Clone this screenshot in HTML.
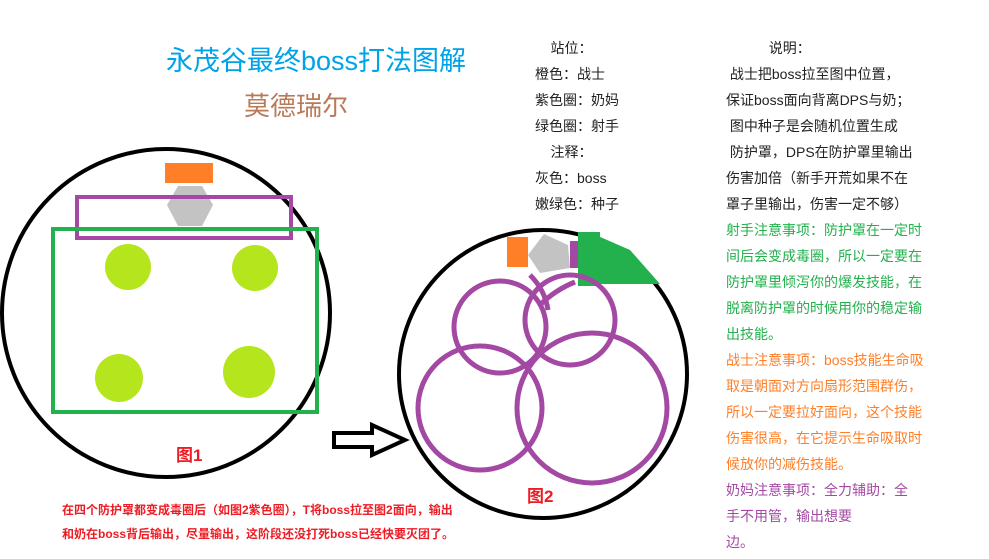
<!DOCTYPE html><html><head><meta charset="utf-8"><style>
body{margin:0;width:989px;height:559px;background:#fff;position:relative;overflow:hidden;font-family:"Liberation Sans","Noto Sans CJK SC",sans-serif}
.t{position:absolute;white-space:nowrap;font-size:14px;color:#222}
</style></head><body>
<svg width="989" height="559" style="position:absolute;left:0;top:0">
<circle cx="166" cy="313" r="164" fill="none" stroke="#000" stroke-width="4"/>
<rect x="165" y="163" width="48" height="20" fill="#fe7f27"/>
<polygon points="178,186 202,186 213,205 202,226 178,226 167,205" fill="#c3c3c3"/>
<rect x="77" y="197" width="214" height="41" fill="none" stroke="#a349a4" stroke-width="4"/>
<rect x="53" y="229" width="264" height="183" fill="none" stroke="#22b14c" stroke-width="4"/>
<circle cx="128" cy="267" r="23" fill="#b5e61d"/>
<circle cx="255" cy="268" r="23" fill="#b5e61d"/>
<circle cx="119" cy="378" r="24" fill="#b5e61d"/>
<circle cx="249" cy="372" r="26" fill="#b5e61d"/>
<polygon points="334,433 372,433 372,425 405,440 372,455 372,447 334,447" fill="#fff" stroke="#000" stroke-width="4"/>
<circle cx="543" cy="374" r="144" fill="none" stroke="#000" stroke-width="4"/>
<rect x="507" y="237" width="21" height="30" fill="#fe7f27"/>
<polygon points="544,234 568,245 570,268 540,273 528,255" fill="#c3c3c3"/>
<rect x="570" y="241" width="30" height="27" fill="#a349a4"/>
<polygon points="580,234 580,284 660,284 630,250 598,236" fill="#22b14c"/>
<rect x="580" y="234" width="18" height="50" fill="none" stroke="#22b14c" stroke-width="4"/>
<g fill="none" stroke="#a349a4" stroke-width="5">
<circle cx="500" cy="327" r="46"/><circle cx="570" cy="320" r="45"/>
<circle cx="480" cy="408" r="62"/><circle cx="592" cy="408" r="75"/>
<path d="M530 275 Q545 290 548 310 M575 282 Q555 290 540 305"/>
</g>
</svg>
<div class="t" style="left:166px;top:39px;font-size:27px;color:#00a2e8">永茂谷最终boss打法图解</div>
<div class="t" style="left:244px;top:86px;font-size:26px;color:#b97a57">莫德瑞尔</div>
<div class="t" style="left:176px;top:441px;font-size:17px;color:#ed1c24;font-weight:bold">图1</div>
<div class="t" style="left:527px;top:482px;font-size:17px;color:#ed1c24;font-weight:bold">图2</div>
<div class="t" style="left:62px;top:498px;font-size:12px;color:#ed1c24;font-weight:bold;line-height:24px">在四个防护罩都变成毒圈后（如图2紫色圈），T将boss拉至图2面向，输出<br>和奶在boss背后输出，尽量输出，这阶段还没打死boss已经快要灭团了。</div>
<div class="t" style="left:535px;top:35px;line-height:26px">&nbsp;&nbsp;&nbsp;&nbsp;站位：<br>橙色：战士<br>紫色圈：奶妈<br>绿色圈：射手<br>&nbsp;&nbsp;&nbsp;&nbsp;注释：<br>灰色：boss<br>嫩绿色：种子</div>
<div class="t" style="left:726px;top:35px;line-height:26px">&nbsp;&nbsp;&nbsp;&nbsp;&nbsp;&nbsp;&nbsp;&nbsp;&nbsp;&nbsp;&nbsp;说明：<br>&nbsp;战士把boss拉至图中位置，<br>保证boss面向背离DPS与奶；<br>&nbsp;图中种子是会随机位置生成<br>&nbsp;防护罩，DPS在防护罩里输出<br>伤害加倍（新手开荒如果不在<br>罩子里输出，伤害一定不够）<br>
<span style="color:#22b14c">射手注意事项：防护罩在一定时<br>间后会变成毒圈，所以一定要在<br>防护罩里倾泻你的爆发技能，在<br>脱离防护罩的时候用你的稳定输<br>出技能。</span><br>
<span style="color:#ff7f27">战士注意事项：boss技能生命吸<br>取是朝面对方向扇形范围群伤，<br>所以一定要拉好面向，这个技能<br>伤害很高，在它提示生命吸取时<br>候放你的减伤技能。</span><br>
<span style="color:#a349a4">奶妈注意事项：全力辅助：全<br>手不用管，输出想要<br>边。</span></div>
</body></html>
